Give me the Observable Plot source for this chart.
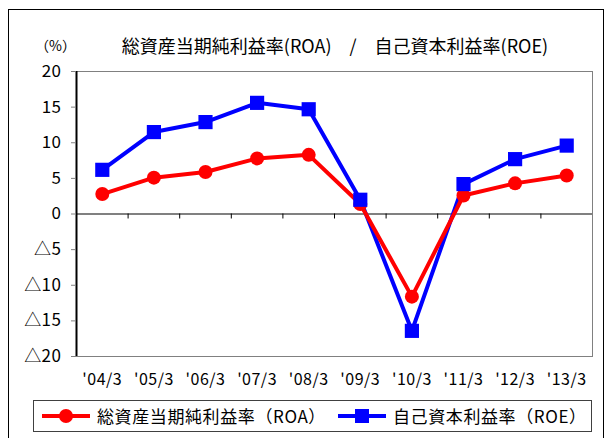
<!DOCTYPE html>
<html><head><meta charset="utf-8">
<script src="https://cdn.jsdelivr.net/npm/d3@7"></script>
<script src="https://cdn.jsdelivr.net/npm/@observablehq/plot@0.6"></script>
<style>
body{margin:0;background:#fff;font-family:"Noto Sans CJK JP","Noto Sans",sans-serif;}
#wrap{position:relative;width:606px;height:438px;overflow:hidden;}
#outer{position:absolute;left:8px;top:9px;width:596px;height:440px;border:1px solid #000;box-sizing:border-box;}
#title{position:absolute;left:0;top:33px;width:670px;text-align:center;font-size:18px;line-height:24px;color:#000;white-space:pre;}
#unit{position:absolute;left:35px;top:34px;font-size:14px;line-height:22px;}
#chart{position:absolute;left:0;top:0;}
#legend{position:absolute;left:33px;top:400px;width:559px;height:32px;border:1px solid #404040;box-sizing:border-box;}
.lt{position:absolute;top:3px;font-size:17px;line-height:24px;white-space:pre;letter-spacing:0.6px;}
#chart svg text{letter-spacing:0.5px;}
</style></head>
<body>
<div id="wrap">
  <div id="outer"></div>
  <div id="unit">（%）</div>
  <div id="title">総資産当期純利益率(ROA)　/　自己資本利益率(ROE)</div>
  <div id="chart"></div>
  <div id="legend"></div>
</div>
<script>
const categories = ["'04/3","'05/3","'06/3","'07/3","'08/3","'09/3","'10/3","'11/3","'12/3","'13/3"];
const roa = [2.8, 5.1, 5.9, 7.8, 8.3, 1.4, -11.6, 2.6, 4.3, 5.4];
const roe = [6.2, 11.5, 12.9, 15.6, 14.7, 2.0, -16.4, 4.2, 7.7, 9.6];
const yTicks = [-20, -15, -10, -5, 0, 5, 10, 15, 20];
const seriesNames = ["総資産当期純利益率（ROA）", "自己資本利益率（ROE）"];
const seriesColors = ["#ff0000", "#0000ff"];

const rowsA = categories.map((c, i) => ({x: i + 0.5, v: roa[i]}));
const rowsE = categories.map((c, i) => ({x: i + 0.5, v: roe[i]}));
const boundaries = d3.range(1, categories.length);

const plot = Plot.plot({
  width: 606, height: 390,
  marginLeft: 76, marginRight: 14, marginTop: 71, marginBottom: 34,
  style: {fontFamily: '"Noto Sans CJK JP", sans-serif', color: "#000", background: "transparent"},
  x: {type: "linear", domain: [0, categories.length], label: null},
  y: {domain: [-20, 20], label: null},
  marks: [
    Plot.frame({stroke: "#808080"}),
    Plot.ruleY([0], {stroke: "#808080", strokeWidth: 2}),
    Plot.ruleX(boundaries, {x: d => d, y1: 0, y2: -0.7, stroke: "#000", strokeWidth: 1}),
    Plot.ruleX([0], {stroke: "#000", strokeWidth: 2}),
    Plot.axisY({ticks: yTicks, tickSize: 5, tickPadding: 10, stroke: "#808080", fill: "#000", fontSize: 17, label: null,
      tickFormat: d => d < 0 ? "△" + (-d) : String(d)}),
    Plot.axisX({ticks: categories.map((c, i) => i + 0.5), tickSize: 0, tickPadding: 17, fontSize: 16, fill: "#000", label: null,
      tickFormat: d => categories[Math.round(d - 0.5)]}),
    Plot.line(rowsE, {x: "x", y: "v", stroke: seriesColors[1], strokeWidth: 4}),
    Plot.line(rowsA, {x: "x", y: "v", stroke: seriesColors[0], strokeWidth: 4}),
    Plot.dot(rowsA, {x: "x", y: "v", r: 7, fill: seriesColors[0], stroke: "none"}),
    Plot.dot(rowsE, {x: "x", y: "v", r: 8, symbol: "square", fill: seriesColors[1], stroke: "none"})
  ]
});
document.getElementById("chart").appendChild(plot);

// legend
const lg = document.getElementById("legend");
const ns = "http://www.w3.org/2000/svg";
function sw(left, color, kind) {
  const s = document.createElementNS(ns, "svg");
  s.setAttribute("width", 56); s.setAttribute("height", 30);
  s.style.position = "absolute"; s.style.left = left + "px"; s.style.top = "0px";
  const l = document.createElementNS(ns, "line");
  l.setAttribute("x1", 4); l.setAttribute("x2", 52); l.setAttribute("y1", 15); l.setAttribute("y2", 15);
  l.setAttribute("stroke", color); l.setAttribute("stroke-width", 4);
  s.appendChild(l);
  if (kind === "circle") {
    const c = document.createElementNS(ns, "circle");
    c.setAttribute("cx", 28); c.setAttribute("cy", 15); c.setAttribute("r", 7); c.setAttribute("fill", color);
    s.appendChild(c);
  } else {
    const r = document.createElementNS(ns, "rect");
    r.setAttribute("x", 21); r.setAttribute("y", 8); r.setAttribute("width", 14); r.setAttribute("height", 14); r.setAttribute("fill", color);
    s.appendChild(r);
  }
  lg.appendChild(s);
}
function txt(left, t) {
  const d = document.createElement("div");
  d.className = "lt"; d.style.left = left + "px"; d.textContent = t;
  lg.appendChild(d);
}
sw(4, seriesColors[0], "circle");
txt(63, seriesNames[0]);
sw(300, seriesColors[1], "square");
txt(359, seriesNames[1]);
</script>
</body></html>
